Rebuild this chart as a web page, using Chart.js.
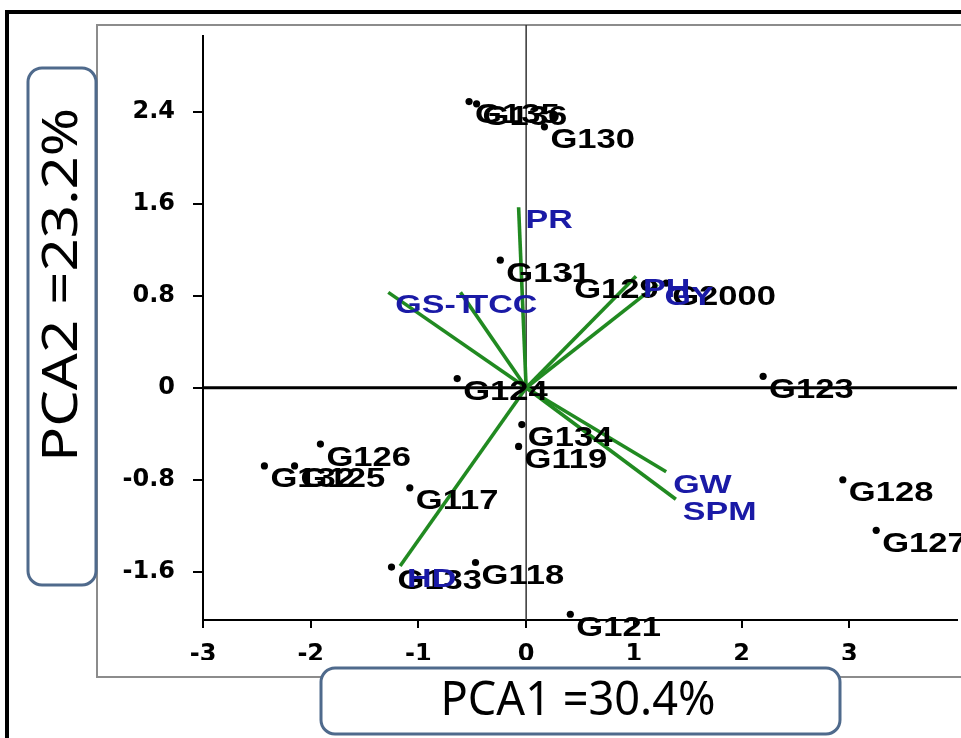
<!DOCTYPE html>
<html>
<head>
<meta charset="utf-8">
<script src="https://cdn.jsdelivr.net/npm/chart.js@4.4.1/dist/chart.umd.min.js"></script>
<style>
  html, body { margin: 0; padding: 0; background: #fff; overflow: hidden; }
  #wrap { width: 961px; height: 738px; position: relative; }
</style>
</head>
<body>
<div id="wrap"><canvas id="c" width="961" height="738"></canvas></div>
<script>
// ---------- data ----------
const genotypes = ['G135','G136','G130','G131','G129','G2000','G124','G123','G134','G119','G126','G132','G125','G117','G128','G127','G133','G118','G121'];
const genoX = [-0.53,-0.46,0.17,-0.24,0.39,1.30,-0.64,2.20,-0.04,-0.07,-1.91,-2.43,-2.15,-1.08,2.94,3.25,-1.25,-0.47,0.41];
const genoY = [2.49,2.47,2.27,1.11,0.97,0.91,0.08,0.10,-0.32,-0.51,-0.49,-0.68,-0.68,-0.87,-0.80,-1.24,-1.56,-1.52,-1.97];

const traits = ['PR','PH','GY','GS-T','TCC','GW','SPM','HD'];
const traitX = [-0.07,1.02,1.22,-1.28,-0.61,1.30,1.39,-1.17];
const traitY = [1.57,0.97,0.90,0.83,0.83,-0.73,-0.97,-1.55];

const xTicks = [-3,-2,-1,0,1,2,3];
const yTicks = [-1.6,-0.8,0,0.8,1.6,2.4];
const xTitle = 'PCA1 =30.4%';
const yTitle = 'PCA2 =23.2%';

// ---------- datasets ----------
const pointData = genotypes.map((g,i)=>({x:genoX[i], y:genoY[i]}));
const datasets = [{
  type:'scatter', label:'Genotypes', data: pointData,
  pointRadius: 3.6, pointBackgroundColor:'#000', pointBorderWidth:0, showLine:false
}];
traits.forEach((t,i)=>{
  datasets.push({
    type:'line', label:t, data:[{x:0,y:0},{x:traitX[i],y:traitY[i]}],
    borderColor:'#218a21', borderWidth:3.6, pointRadius:0, fill:false, tension:0
  });
});

function fitText(ctx, text, cx, cy, targetW, font, rot){
  ctx.save();
  ctx.font = font;
  const w = ctx.measureText(text).width;
  ctx.translate(cx, cy);
  if (rot) ctx.rotate(rot);
  ctx.scale(targetW / w, 1);
  ctx.fillStyle = '#000';
  ctx.textAlign = 'center';
  ctx.textBaseline = 'middle';
  ctx.fillText(text, 0, 0);
  ctx.restore();
}
function stretchedText(ctx, text, x, y, font, color, sx){
  ctx.save();
  ctx.font = font;
  ctx.fillStyle = color;
  ctx.textAlign = 'left';
  ctx.textBaseline = 'middle';
  ctx.translate(x, y);
  ctx.scale(sx, 1);
  ctx.fillText(text, 0, 0);
  ctx.restore();
}
function roundBox(ctx, x, y, w, h, r){
  ctx.save();
  ctx.beginPath();
  ctx.roundRect(x, y, w, h, r);
  ctx.fillStyle = '#fff';
  ctx.fill();
  ctx.lineWidth = 3;
  ctx.strokeStyle = '#4f6a8c';
  ctx.stroke();
  ctx.restore();
}

const decor = {
  id:'decor',
  beforeDraw(chart){
    const ctx = chart.ctx;
    ctx.save();
    ctx.fillStyle = '#fff';
    ctx.fillRect(0,0,chart.width,chart.height);
    // black outer frame
    ctx.fillStyle = '#000';
    ctx.fillRect(5, 10, 4, 740);
    ctx.fillRect(5, 10, 970, 4);
    // gray inner frame
    ctx.strokeStyle = '#8c8c8c';
    ctx.lineWidth = 2;
    ctx.beginPath();
    ctx.moveTo(980, 25); ctx.lineTo(97, 25); ctx.lineTo(97, 677); ctx.lineTo(980, 677);
    ctx.stroke();
    ctx.restore();
  },
  beforeDatasetsDraw(chart){
    const ctx = chart.ctx, xs = chart.scales.x, ys = chart.scales.y, a = chart.chartArea;
    ctx.save();
    const x0 = xs.getPixelForValue(0), y0 = ys.getPixelForValue(0);
    ctx.strokeStyle = '#333';
    ctx.lineWidth = 1.5;
    ctx.beginPath(); ctx.moveTo(x0, 25); ctx.lineTo(x0, a.bottom); ctx.stroke();
    ctx.strokeStyle = '#000';
    ctx.lineWidth = 3;
    ctx.beginPath(); ctx.moveTo(a.left, y0); ctx.lineTo(a.right, y0); ctx.stroke();
    ctx.restore();
  },
  afterDatasetsDraw(chart){
    const ctx = chart.ctx, xs = chart.scales.x, ys = chart.scales.y;
    genotypes.forEach((g,i)=>{
      const px = xs.getPixelForValue(genoX[i]), py = ys.getPixelForValue(genoY[i]);
      stretchedText(ctx, g, px+6, py+14, 'bold 27px "Liberation Sans", Arial, sans-serif', '#000', 1.28);
    });
    traits.forEach((t,i)=>{
      const px = xs.getPixelForValue(traitX[i]), py = ys.getPixelForValue(traitY[i]);
      stretchedText(ctx, t, px+7, py+14, 'bold 25px "Liberation Sans", Arial, sans-serif', '#1a1aa6', 1.36);
    });
  },
  afterDraw(chart){
    const ctx = chart.ctx;
    roundBox(ctx, 28, 68, 68, 517, 14);
    roundBox(ctx, 321, 668, 519, 66, 14);
    fitText(ctx, yTitle, 63, 285, 354, '49px "Noto Sans", sans-serif', -Math.PI/2);
    fitText(ctx, xTitle, 578, 702, 275, '47px "Noto Sans", sans-serif', 0);
  }
};

const tickFont = {family:'DejaVu Sans', weight:'bold', size:24};

new Chart(document.getElementById('c'), {
  type:'scatter',
  data:{ datasets },
  options:{
    responsive:false,
    animation:false,
    layout:{ padding:{ left:100, top:36, right:0, bottom:78 } },
    plugins:{ legend:{display:false}, tooltip:{enabled:false} },
    scales:{
      x:{
        type:'linear', min:-3, max:4,
        afterBuildTicks(s){ s.ticks = xTicks.map(v=>({value:v})); },
        afterFit(s){ s.height = 40; },
        ticks:{ color:'#000', font:tickFont, padding:12, maxRotation:0, autoSkip:false,
                callback:(v)=>String(v) },
        grid:{ drawOnChartArea:false, drawTicks:true, tickLength:8, color:'#000', lineWidth:2 },
        border:{ display:true, color:'#000', width:2 }
      },
      y:{
        type:'linear', min:-2.02, max:3.06,
        afterBuildTicks(s){ s.ticks = yTicks.map(v=>({value:v})); },
        afterFit(s){ s.width = 103; },
        ticks:{ color:'#000', font:tickFont, padding:18, autoSkip:false,
                callback:(v)=>String(v) },
        grid:{ drawOnChartArea:false, drawTicks:true, tickLength:10, color:'#000', lineWidth:2 },
        border:{ display:true, color:'#000', width:2 }
      }
    }
  },
  plugins:[decor]
});
</script>
</body>
</html>
